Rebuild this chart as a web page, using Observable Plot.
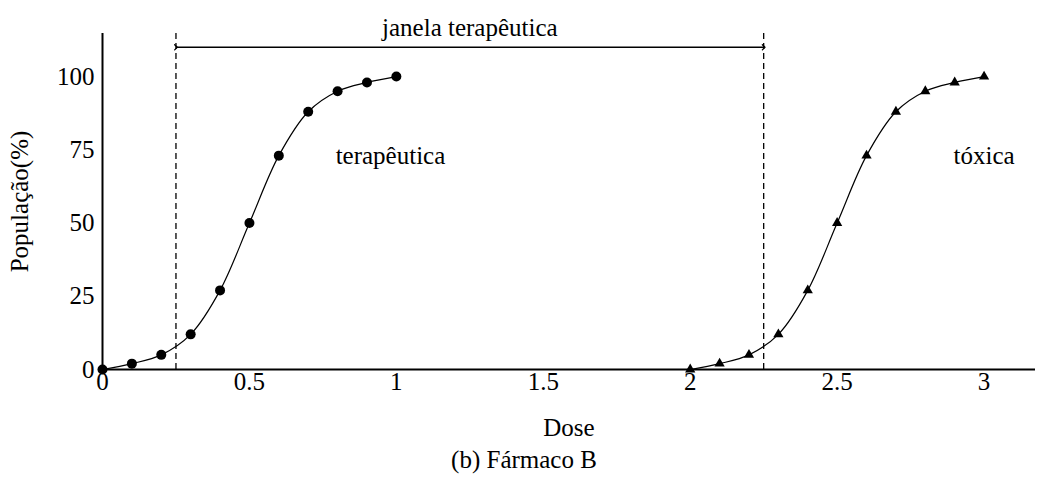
<!DOCTYPE html>
<html>
<head>
<meta charset="utf-8">
<script src="https://cdn.jsdelivr.net/npm/d3@7"></script>
<script src="https://cdn.jsdelivr.net/npm/@observablehq/plot@0.6"></script>
<style>
  html, body { margin: 0; padding: 0; background: #fff; }
  body { width: 1048px; height: 481px; overflow: hidden; font-family: "Liberation Serif", "Times New Roman", serif; }
  #chart svg, #chart svg text { font-family: "Liberation Serif", "Times New Roman", serif !important; }
  #caption { text-align: center; font-size: 25px; color: #000; margin-top: 5px; font-family: "Liberation Serif", "Times New Roman", serif; }
</style>
</head>
<body>
<div id="chart"></div>
<div id="caption">(b) Fármaco B</div>
<script>
const therapeuticDose = [0, 0.1, 0.2, 0.3, 0.4, 0.5, 0.6, 0.7, 0.8, 0.9, 1.0];
const therapeuticPop  = [0, 2, 5, 12, 27, 50, 73, 88, 95, 98, 100];
const toxicDose = [2.0, 2.1, 2.2, 2.3, 2.4, 2.5, 2.6, 2.7, 2.8, 2.9, 3.0];
const toxicPop  = [0, 2, 5, 12, 27, 50, 73, 88, 95, 98, 100];
const xTicks = [0, 0.5, 1, 1.5, 2, 2.5, 3];
const yTicks = [0, 25, 50, 75, 100];
const windowBounds = [0.25, 2.25];
const windowLabel = "janela terapêutica";
const curveLabels = [
  {x: 0.98, y: 73, text: "terapêutica"},
  {x: 3.0, y: 73, text: "tóxica"}
];

const ther = therapeuticDose.map((d, i) => ({dose: d, pop: therapeuticPop[i]}));
const tox = toxicDose.map((d, i) => ({dose: d, pop: toxicPop[i]}));
const FONT = '"Liberation Serif", "Times New Roman", serif';

const chart = Plot.plot({
  width: 1048,
  height: 441,
  marginLeft: 102,
  marginRight: 13,
  marginTop: 33,
  marginBottom: 72,
  style: {fontFamily: FONT, fontSize: "25px", color: "#000", background: "#fff"},
  x: {domain: [0, 3.175], ticks: xTicks, tickSize: 0, tickPadding: 3, label: "Dose", labelAnchor: "center", labelArrow: "none", labelOffset: 66, tickFormat: d => String(d)},
  y: {domain: [0, 114.7], ticks: yTicks, tickSize: 0, tickPadding: 8, label: "População(%)", labelAnchor: "center", labelArrow: "none", labelOffset: 92},
  marks: [
    Plot.ruleX(windowBounds, {y1: 0, y2: 114.7, stroke: "#000", strokeWidth: 1.3, strokeDasharray: "6,4"}),
    Plot.link([{x1: windowBounds[0], x2: windowBounds[1], y: 110}], {x1: "x1", x2: "x2", y1: "y", y2: "y", stroke: "#000", strokeWidth: 1.3, markerStart: "arrow", markerEnd: "arrow"}),
    Plot.text([{x: (windowBounds[0] + windowBounds[1]) / 2, y: 110}], {x: "x", y: "y", text: () => windowLabel, dy: -19, fontSize: 25, fontFamily: FONT, fill: "#000"}),
    Plot.ruleY([0], {stroke: "#000", strokeWidth: 2}),
    Plot.ruleX([0], {stroke: "#000", strokeWidth: 2}),
    Plot.line(ther, {x: "dose", y: "pop", curve: "catmull-rom", stroke: "#000", strokeWidth: 1.2}),
    Plot.line(tox, {x: "dose", y: "pop", curve: "catmull-rom", stroke: "#000", strokeWidth: 1.2}),
    Plot.dot(ther, {x: "dose", y: "pop", r: 5, fill: "#000", stroke: "none"}),
    Plot.dot(tox, {x: "dose", y: "pop", symbol: "triangle", r: 3.8, fill: "#000", stroke: "none"}),
    Plot.text(curveLabels, {x: "x", y: "y", text: "text", fontSize: 25, fontFamily: FONT, fill: "#000"})
  ]
});
document.getElementById("chart").appendChild(chart);
</script>
</body>
</html>
